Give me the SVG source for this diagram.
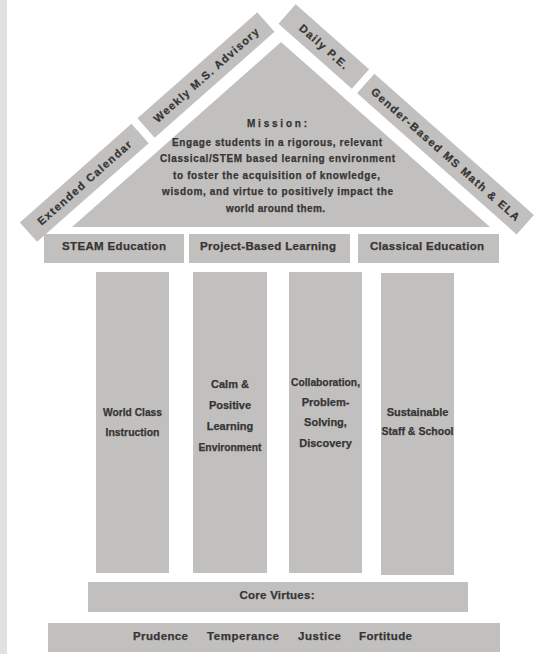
<svg xmlns="http://www.w3.org/2000/svg" width="534" height="654" viewBox="0 0 534 654">
<style>
.sh{fill:#c1c0be}
.t{font-family:"Liberation Sans",Arial,sans-serif;font-weight:bold;fill:#353535;text-anchor:middle;stroke:#353535;stroke-width:0.25}
.band{font-size:11px}
.hd{font-size:11.5px}
.ms{font-size:10px}
.pl{font-size:11px}
.cv{font-size:11.5px}
</style>
<rect x="0" y="0" width="534" height="654" fill="#ffffff"/>
<rect x="0" y="0" width="7" height="654" fill="#e1e1e1"/>

<g id="roof-left" transform="translate(72,227) rotate(-41.5)">
  <g id="extended-calendar">
    <rect class="sh" x="-36" y="-38" width="149" height="26"/>
    <text class="t band" x="38.5" y="-21" textLength="121" lengthAdjust="spacing">Extended Calendar</text>
  </g>
  <g id="weekly-advisory">
    <rect class="sh" x="121" y="-38" width="160" height="26"/>
    <text class="t band" x="201" y="-21" textLength="136" lengthAdjust="spacing">Weekly M.S. Advisory</text>
  </g>
</g>
<g id="roof-right" transform="translate(281,42) rotate(41.5)">
  <g id="daily-pe">
    <rect class="sh" x="-14" y="-38" width="98" height="26"/>
    <text class="t band" x="35" y="-21" textLength="61" lengthAdjust="spacing">Daily P.E.</text>
  </g>
  <g id="gender-based">
    <rect class="sh" x="91" y="-38" width="213" height="26"/>
    <text class="t band" x="197.5" y="-21" textLength="194" lengthAdjust="spacing">Gender-Based MS Math &amp; ELA</text>
  </g>
</g>

<g id="mission">
  <polygon class="sh" points="281,42 72,227 490,227"/>
  <text class="t ms" x="277" y="126.5" textLength="60" lengthAdjust="spacing">Mission:</text>
  <text class="t ms" x="277" y="145.5" textLength="210" lengthAdjust="spacing">Engage students in a rigorous, relevant</text>
  <text class="t ms" x="277.5" y="162" textLength="235" lengthAdjust="spacing">Classical/STEM based learning environment</text>
  <text class="t ms" x="276.5" y="178.5" textLength="207" lengthAdjust="spacing">to foster the acquisition of knowledge,</text>
  <text class="t ms" x="277.5" y="195" textLength="231" lengthAdjust="spacing">wisdom, and virtue to positively impact the</text>
  <text class="t ms" x="275.5" y="211.5" textLength="99" lengthAdjust="spacing">world around them.</text>
</g>

<g id="steam">
  <rect class="sh" x="44" y="234" width="140" height="29"/>
  <text class="t hd" x="114" y="250" textLength="104" lengthAdjust="spacing">STEAM Education</text>
</g>
<g id="pbl">
  <rect class="sh" x="189" y="234" width="161" height="29"/>
  <text class="t hd" x="268" y="250" textLength="136" lengthAdjust="spacing">Project-Based Learning</text>
</g>
<g id="classical">
  <rect class="sh" x="358" y="234" width="141" height="29"/>
  <text class="t hd" x="427" y="250" textLength="114" lengthAdjust="spacing">Classical Education</text>
</g>

<g id="pillar-1">
  <rect class="sh" x="96" y="272" width="73" height="301"/>
  <text class="t pl" x="132.5" y="415.5" textLength="59" lengthAdjust="spacingAndGlyphs">World Class</text>
  <text class="t pl" x="132.5" y="435.5" textLength="54" lengthAdjust="spacingAndGlyphs">Instruction</text>
</g>
<g id="pillar-2">
  <rect class="sh" x="193" y="272" width="74" height="301"/>
  <text class="t pl" x="230" y="388">Calm &amp;</text>
  <text class="t pl" x="230" y="409">Positive</text>
  <text class="t pl" x="230" y="430">Learning</text>
  <text class="t pl" x="230" y="450.5" textLength="63" lengthAdjust="spacingAndGlyphs">Environment</text>
</g>
<g id="pillar-3">
  <rect class="sh" x="289" y="272" width="73" height="301"/>
  <text class="t pl" x="325.5" y="385.5" textLength="69" lengthAdjust="spacingAndGlyphs">Collaboration,</text>
  <text class="t pl" x="325.5" y="405.5">Problem-</text>
  <text class="t pl" x="325.5" y="425.5">Solving,</text>
  <text class="t pl" x="325.5" y="447">Discovery</text>
</g>
<g id="pillar-4">
  <rect class="sh" x="381" y="273" width="73" height="302"/>
  <text class="t pl" x="417.5" y="415.5">Sustainable</text>
  <text class="t pl" x="417.5" y="435" textLength="72" lengthAdjust="spacingAndGlyphs">Staff &amp; School</text>
</g>

<g id="core-virtues">
  <rect class="sh" x="88" y="582" width="380" height="30"/>
  <text class="t cv" x="277" y="599" textLength="75" lengthAdjust="spacing">Core Virtues:</text>
</g>
<g id="virtues">
  <rect class="sh" x="48" y="623" width="452" height="29"/>
  <text class="t hd" x="160.5" y="640" textLength="55" lengthAdjust="spacing">Prudence</text>
  <text class="t hd" x="243" y="640" textLength="72" lengthAdjust="spacing">Temperance</text>
  <text class="t hd" x="319.5" y="640" textLength="43" lengthAdjust="spacing">Justice</text>
  <text class="t hd" x="385.5" y="640" textLength="53" lengthAdjust="spacing">Fortitude</text>
</g>
<g id="connectors"></g>
</svg>
